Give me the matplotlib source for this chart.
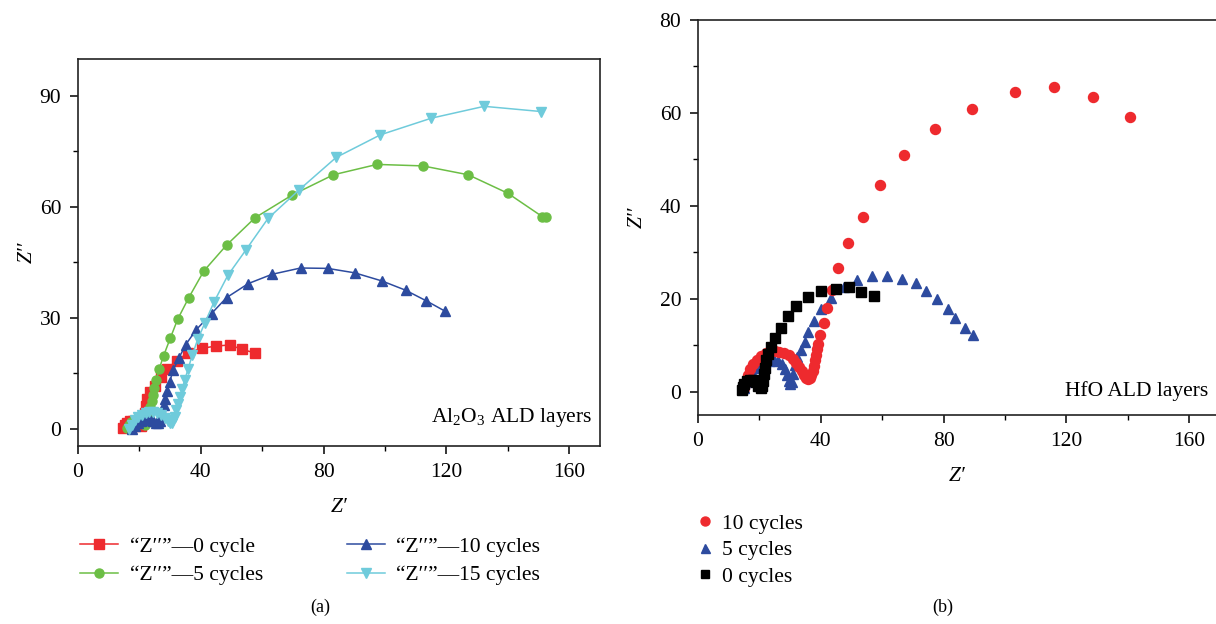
import matplotlib
matplotlib.use('Agg')
import matplotlib.pyplot as plt
import matplotlib.ticker as mticker

# (a) Al2O3 ALD layers: Z' and Z'' per series
al_0_re = [14.8, 15.2, 15.9, 16.8, 17.8, 18.8, 19.7, 20.4, 21.0, 21.4, 21.7, 22.1, 22.6, 23.6,
           25.2, 27.1, 29.0, 32.3, 35.9, 40.3, 44.9, 49.4, 53.5, 57.8]
al_0_im = [0.2, 1.0, 1.7, 2.1, 2.2, 1.9, 1.3, 0.9, 1.4, 2.6, 4.2, 6.3, 8.1, 9.9,
           11.7, 14.0, 16.3, 18.5, 20.6, 21.8, 22.4, 22.7, 21.5, 20.5]

al_5_re = [16.0, 16.6, 17.4, 18.3, 19.3, 20.2, 21.0, 21.7, 22.3, 22.8, 23.2, 23.6, 24.0, 24.3,
           24.8, 25.5, 26.5, 27.9, 30.1, 32.5, 36.1, 41.0, 48.4, 57.7, 69.7, 83.2, 97.4, 112.3,
           127.1, 140.0, 151.2, 152.3]
al_5_im = [0.2, 1.2, 2.0, 2.5, 2.6, 2.3, 1.6, 1.1, 1.6, 2.8, 4.2, 5.8, 7.5, 9.3,
           11.1, 13.3, 16.3, 19.8, 24.6, 29.7, 35.5, 42.7, 49.7, 57.1, 63.2, 68.7, 71.5, 71.1,
           68.7, 63.7, 57.4, 57.4]

al_10_re = [17.5, 18.5, 19.5, 20.5, 21.5, 22.5, 23.5, 24.5, 25.4, 26.2, 26.8, 27.2, 27.5, 27.9,
            28.4, 29.1, 29.9, 31.0, 32.9, 35.1, 38.5, 43.5, 48.4, 55.5, 63.2, 72.5, 81.3, 90.1,
            99.0, 106.7, 113.5, 119.4]
al_10_im = [0.0, 0.9, 1.6, 2.1, 2.4, 2.5, 2.4, 2.1, 1.7, 1.5, 2.2, 3.4, 4.8, 6.4,
            8.2, 10.3, 12.8, 15.9, 19.2, 22.8, 26.8, 31.2, 35.5, 39.3, 41.8, 43.5, 43.4, 42.2,
            40.0, 37.5, 34.6, 31.9]

al_15_re = [16.5, 17.5, 18.5, 19.5, 20.7, 22.0, 23.3, 24.6, 25.9, 27.1, 28.2, 29.2, 30.0, 30.6,
            31.1, 31.5, 32.0, 32.6, 33.3, 33.9, 34.8, 35.9, 37.2, 39.0, 41.3, 44.3, 48.8, 54.8,
            61.9, 72.0, 84.1, 98.5, 115.1, 132.3, 150.7]
al_15_im = [0.0, 1.2, 2.3, 3.2, 3.9, 4.4, 4.6, 4.6, 4.3, 3.7, 3.0, 2.2, 1.6, 1.7,
            2.4, 3.3, 5.0, 6.8, 8.6, 10.8, 13.3, 16.3, 19.9, 24.2, 28.6, 34.3, 41.5, 48.5,
            56.9, 64.6, 73.4, 79.5, 84.0, 87.2, 85.8]

# (b) HfO ALD layers
hf_10_re = [15.0, 15.5, 16.2, 17.0, 18.0, 19.2, 20.5, 22.0, 23.5, 25.0, 26.5, 28.0, 29.5, 30.8,
            32.0, 33.0, 33.8, 34.5, 35.2, 35.8, 36.4, 36.9, 37.3, 37.7, 38.1, 38.5, 38.8, 39.0,
            39.8, 40.9, 41.9, 43.5, 45.7, 48.9, 53.6, 59.3, 67.2, 77.2, 89.3, 103.4, 116.0,
            128.8, 140.7]
hf_10_im = [0.8, 2.2, 3.6, 4.8, 5.9, 6.9, 7.7, 8.3, 8.6, 8.7, 8.6, 8.3, 7.8, 7.1,
            6.2, 5.3, 4.4, 3.6, 3.0, 2.8, 3.0, 3.6, 4.5, 5.6, 6.8, 8.0, 9.2, 10.3,
            12.3, 14.8, 18.1, 21.9, 26.6, 31.9, 37.6, 44.5, 51.0, 56.5, 60.9, 64.6, 65.6,
            63.5, 59.2]

hf_5_re = [15.0, 15.6, 16.5, 17.5, 18.8, 20.2, 21.7, 23.2, 24.7, 26.0, 27.2, 28.2, 29.0, 29.6,
           30.1, 30.6, 31.0, 31.6, 32.4, 33.4, 34.7, 35.9, 37.8, 40.2, 43.2, 47.7, 51.9, 56.6,
           61.7, 66.4, 71.0, 74.3, 77.8, 81.3, 83.8, 87.1, 89.5]
hf_5_im = [0.8, 2.0, 3.2, 4.2, 5.2, 5.9, 6.4, 6.7, 6.8, 6.6, 5.9, 4.8, 3.6, 2.4,
           1.6, 2.2, 3.9, 5.7, 7.4, 9.0, 10.8, 12.8, 15.3, 17.8, 20.2, 22.5, 24.0, 25.0,
           25.0, 24.2, 23.3, 21.7, 19.9, 17.9, 15.8, 13.8, 12.2]

hf_0_re = [14.3, 14.5, 15.0, 15.8, 16.8, 17.8, 18.8, 19.7, 20.4, 21.0, 21.3, 21.6, 21.9, 22.3,
           22.9, 23.9, 25.1, 26.9, 29.2, 32.0, 35.7, 40.1, 44.8, 49.3, 53.1, 57.3]
hf_0_im = [0.3, 1.0, 1.7, 2.3, 2.6, 2.5, 2.0, 1.3, 0.8, 1.2, 2.4, 3.8, 5.2, 6.8,
           8.2, 9.7, 11.6, 13.8, 16.2, 18.4, 20.4, 21.7, 22.2, 22.6, 21.4, 20.6]

al_labels = ['\u201cZ\u2032\u2032\u201d\u20140 cycle', '\u201cZ\u2032\u2032\u201d\u20145 cycles',
             '\u201cZ\u2032\u2032\u201d\u201410 cycles', '\u201cZ\u2032\u2032\u201d\u201415 cycles']
hf_labels = ['10 cycles', '5 cycles', '0 cycles']

RED = '#ee2a2e'
GREEN = '#6cbe45'
BLUE = '#2d4b9f'
CYAN = '#6fcbdb'
textsize = 15.5
SERIF = ['Liberation Serif', 'DejaVu Serif']

plt.rcParams['font.family'] = SERIF
plt.rcParams['mathtext.fontset'] = 'custom'
plt.rcParams['mathtext.rm'] = 'Liberation Serif'
plt.rcParams['axes.linewidth'] = 1.2


def style_axis(ax, xminor, yminor):
    ax.xaxis.set_major_locator(mticker.MultipleLocator(40))
    ax.xaxis.set_minor_locator(mticker.MultipleLocator(xminor))
    ax.yaxis.set_minor_locator(mticker.MultipleLocator(yminor))
    ax.tick_params(which='major', direction='out', length=6, width=1.1,
                   labelsize=textsize, pad=6, top=False, right=False)
    ax.tick_params(which='minor', direction='out', length=3.5, width=1.0,
                   top=False, right=False)
    for sp in ax.spines.values():
        sp.set_color('#222222')


fig = plt.figure(figsize=(12.16, 6.24), dpi=100, facecolor='white')

# panel (a)
ax1 = fig.add_axes([0.0641, 0.2853, 0.4293, 0.6202])
plotargs = {'lw': 1.1, 'ms': 6.5}
ax1.plot(al_0_re, al_0_im, color=RED, marker='s', label=al_labels[0], **plotargs)
ax1.plot(al_5_re, al_5_im, color=GREEN, marker='o', label=al_labels[1], **plotargs)
ax1.plot(al_10_re, al_10_im, color=BLUE, marker='^', label=al_labels[2], **plotargs)
ax1.plot(al_15_re, al_15_im, color=CYAN, marker='v', label=al_labels[3], **plotargs)
ax1.set_xlim(0, 170)
ax1.set_ylim(-4.6, 100)
ax1.yaxis.set_major_locator(mticker.MultipleLocator(30))
style_axis(ax1, 20, 15)
ax1.text(0.985, 0.045, r'Al$_2$O$_3$ ALD layers', transform=ax1.transAxes,
         ha='right', va='bottom', fontsize=textsize)
ax1.set_xlabel('Z\u2032', fontsize=textsize, style='italic', labelpad=12)
ax1.set_ylabel('Z\u2032\u2032', fontsize=textsize, style='italic', labelpad=2)

fig.legend(*ax1.get_legend_handles_labels(), loc='upper left', bbox_to_anchor=(0.066, 0.14),
           ncol=2, frameon=False, fontsize=textsize, handlelength=1.75, handletextpad=0.55,
           columnspacing=3.9, labelspacing=0.4, borderpad=0, borderaxespad=0)

# panel (b)
ax2 = fig.add_axes([0.574, 0.335, 0.426, 0.633])
mk = {'ls': 'none', 'ms': 7.2}
h_blue, = ax2.plot(hf_5_re, hf_5_im, color=BLUE, marker='^', **mk)
h_red, = ax2.plot(hf_10_re, hf_10_im, color=RED, marker='o', **mk)
h_black, = ax2.plot(hf_0_re, hf_0_im, color='black', marker='s', ms=6.5, ls='none')
ax2.set_xlim(0, 168.7)
ax2.set_ylim(-5, 80)
ax2.yaxis.set_major_locator(mticker.MultipleLocator(20))
ax2.spines['right'].set_visible(False)
style_axis(ax2, 20, 10)
ax2.text(0.985, 0.035, 'HfO ALD layers', transform=ax2.transAxes,
         ha='right', va='bottom', fontsize=textsize)
ax2.set_xlabel('Z\u2032', fontsize=textsize, style='italic', labelpad=12)
ax2.set_ylabel('Z\u2032\u2032', fontsize=textsize, style='italic', labelpad=9)

fig.legend([h_red, h_blue, h_black], hf_labels, loc='upper left', bbox_to_anchor=(0.571, 0.177),
           frameon=False, fontsize=textsize, handlelength=1.0, handletextpad=0.3,
           labelspacing=0.3, numpoints=1, borderpad=0, borderaxespad=0, markerscale=0.9)

fig.text(0.263, 0.026, '(a)', ha='center', va='center', fontsize=13)
fig.text(0.775, 0.026, '(b)', ha='center', va='center', fontsize=13)

fig.savefig('out.png', dpi=100)
plt.close()
